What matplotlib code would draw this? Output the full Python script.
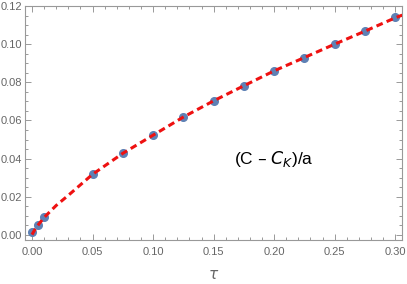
import numpy as np
import matplotlib
matplotlib.use('Agg')
import matplotlib.pyplot as plt
from matplotlib.ticker import MultipleLocator

# data
tau = [0.0, 0.005, 0.01, 0.05, 0.075, 0.1, 0.125, 0.15, 0.175, 0.2, 0.225, 0.25, 0.275, 0.3]
vals = [0.0014, 0.0054, 0.0094, 0.0318, 0.0428, 0.0523, 0.0618, 0.0703, 0.0782, 0.0860, 0.0930, 0.1000, 0.1068, 0.1140]
# fitted curve
fit_tau = [0.0, 0.0025, 0.005, 0.01, 0.02, 0.03, 0.05, 0.075, 0.1, 0.125, 0.15, 0.175, 0.2, 0.225, 0.25, 0.275, 0.3, 0.3058]
fit_vals = [0.0002, 0.0030, 0.0052, 0.0092, 0.0155, 0.0208, 0.0318, 0.0428, 0.0523, 0.0618, 0.0703, 0.0782, 0.0860, 0.0930, 0.1000, 0.1068, 0.1138, 0.1152]

plt.rcParams['font.family'] = ['Liberation Sans', 'DejaVu Sans']
grey = '#666666'

fig = plt.figure(figsize=(4.07, 2.84), dpi=100)
ax = fig.add_axes([0.0614, 0.155, 0.927, 0.824])

ax.plot(tau, vals, 'o', color='#5E81B5', ms=5.5, zorder=2)
ax.plot(fit_tau, fit_vals, '--', color='#EE1111', lw=2.2, dashes=(2.2, 1.4), zorder=3)

ax.set_xlim(-0.0058, 0.3058)
ax.set_ylim(-0.0026, 0.12)
ax.xaxis.set_major_locator(MultipleLocator(0.05))
ax.xaxis.set_minor_locator(MultipleLocator(0.01))
ax.yaxis.set_major_locator(MultipleLocator(0.02))
ax.yaxis.set_minor_locator(MultipleLocator(0.005))
ax.xaxis.set_major_formatter(matplotlib.ticker.FormatStrFormatter('%.2f'))
ax.yaxis.set_major_formatter(matplotlib.ticker.FormatStrFormatter('%.2f'))

ax.tick_params(which='both', direction='in', top=True, right=True, color='#999999',
               labelsize=8, labelcolor=grey, width=0.7)
ax.tick_params(which='major', length=4)
ax.tick_params(which='minor', length=2)
ax.tick_params(axis='x', pad=5)
ax.tick_params(axis='y', pad=2)
for s in ax.spines.values():
    s.set_color('#999999')
    s.set_linewidth(0.8)

ax.set_xlabel(r'$\tau$', fontsize=11, color=grey, labelpad=8)
ax.text(0.200, 0.040, r'(C – $C_K$)/a', fontsize=12.5, color='black', ha='center', va='center')

fig.savefig('out.png', dpi=100)
